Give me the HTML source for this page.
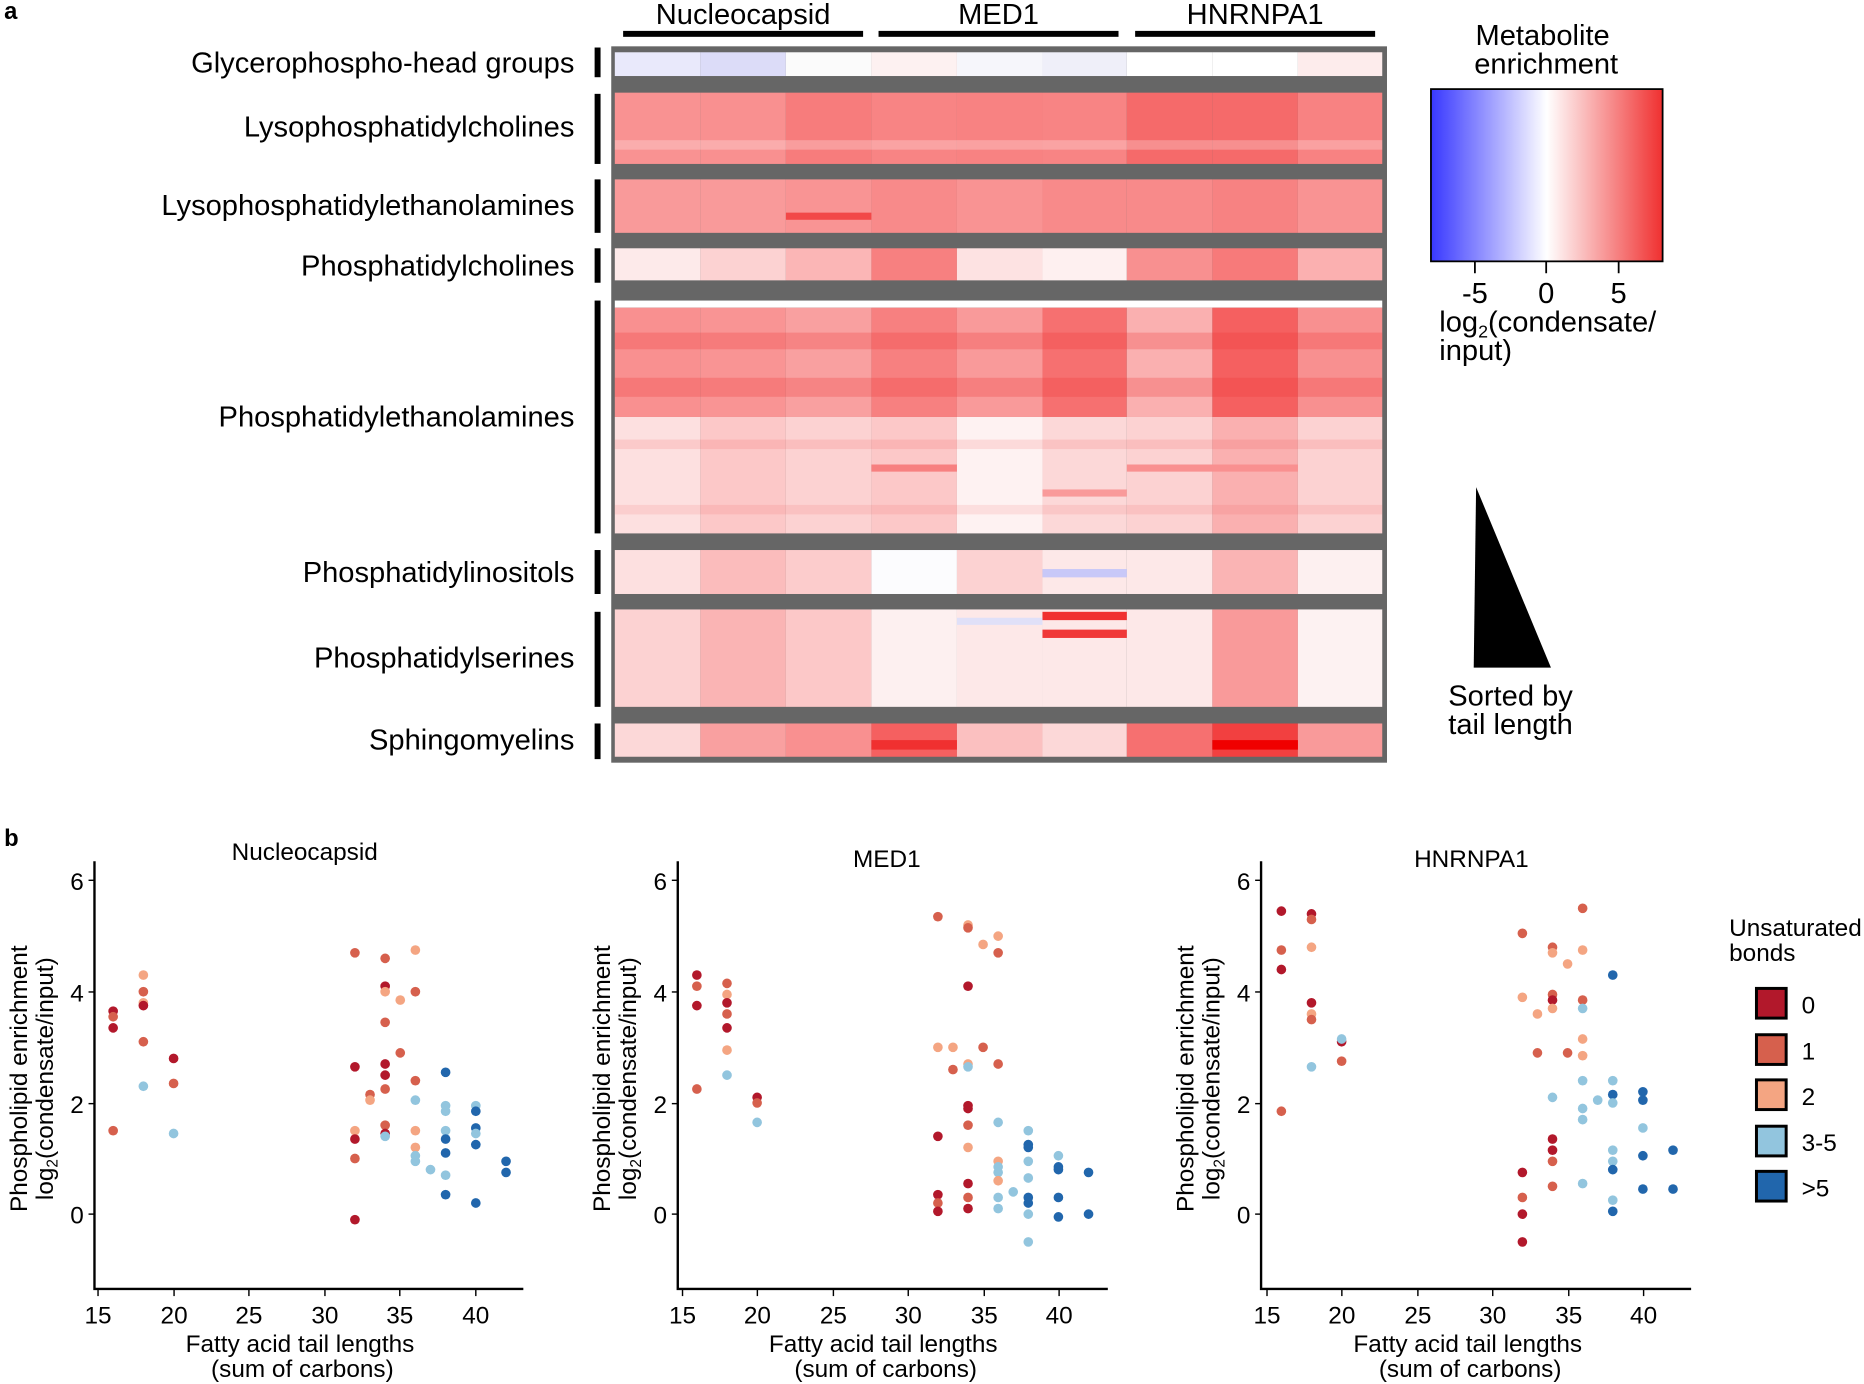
<!DOCTYPE html>
<html><head><meta charset="utf-8"><style>
html,body{margin:0;padding:0;background:#fff}
svg{display:block}
text{font-family:"Liberation Sans",Arial,sans-serif;fill:#000}
ellipse{rx:0.32px;ry:0.087px}
.a{fill:#b2182b}.b{fill:#d6604d}.c{fill:#f4a582}.d{fill:#92c5de}.e{fill:#2166ac}
</style></head><body>
<svg width="1864" height="1384" viewBox="0 0 1568 1165" xmlns="http://www.w3.org/2000/svg">
<defs><linearGradient id="cb" x1="0" x2="1" y1="0" y2="0">
<stop offset="0" stop-color="#3838ff"/><stop offset="0.5" stop-color="#ffffff"/><stop offset="1" stop-color="#f03030"/></linearGradient></defs>
<text x="3" y="16" font-size="20" font-weight="bold">a</text>
<text x="3" y="712" font-size="20" font-weight="bold">b</text>
<g font-size="24.5" text-anchor="middle">
<text x="625" y="20">Nucleocapsid</text><text x="840" y="20">MED1</text><text x="1056" y="20">HNRNPA1</text></g>
<rect x="524" y="26" width="202" height="5"/><rect x="739" y="26" width="202" height="5"/><rect x="955" y="26" width="202" height="5"/>
<rect x="514" y="39" width="653" height="603" fill="#666"/>
<g id="hm">
<rect x="517" y="44" width="72" height="20" fill="#e9e9fb"/><rect x="589" y="44" width="72" height="20" fill="#dcdcf8"/><rect x="661" y="44" width="72" height="20" fill="#fbfbfb"/><rect x="733" y="44" width="72" height="20" fill="#fdf1f1"/><rect x="805" y="44" width="72" height="20" fill="#f6f6fb"/><rect x="877" y="44" width="71" height="20" fill="#efeff9"/><rect x="948" y="44" width="72" height="20" fill="#fff"/><rect x="1020" y="44" width="72" height="20" fill="#fff"/><rect x="1092" y="44" width="71" height="20" fill="#fdecec"/>
<rect x="517" y="78" width="72" height="60" fill="#f99292"/><rect x="589" y="78" width="72" height="60" fill="#f99090"/><rect x="661" y="78" width="72" height="60" fill="#f77c7c"/><rect x="733" y="78" width="72" height="60" fill="#f88484"/><rect x="805" y="78" width="72" height="60" fill="#f88282"/><rect x="877" y="78" width="71" height="60" fill="#f88484"/><rect x="948" y="78" width="72" height="60" fill="#f56a6a"/><rect x="1020" y="78" width="72" height="60" fill="#f56a6a"/><rect x="1092" y="78" width="71" height="60" fill="#f88282"/>
<rect x="517" y="118" width="646" height="8" fill="#fff" opacity="0.25"/>
<rect x="517" y="151" width="72" height="45" fill="#f99a9a"/><rect x="589" y="151" width="72" height="45" fill="#f99a9a"/><rect x="661" y="151" width="72" height="45" fill="#f99494"/><rect x="733" y="151" width="72" height="45" fill="#f88a8a"/><rect x="805" y="151" width="72" height="45" fill="#f99393"/><rect x="877" y="151" width="71" height="45" fill="#f88a8a"/><rect x="948" y="151" width="72" height="45" fill="#f88a8a"/><rect x="1020" y="151" width="72" height="45" fill="#f78282"/><rect x="1092" y="151" width="71" height="45" fill="#f99393"/>
<rect x="661" y="179" width="72" height="6" fill="#f24848"/>
<rect x="517" y="209" width="72" height="27" fill="#fdeaea"/><rect x="589" y="209" width="72" height="27" fill="#fcd2d2"/><rect x="661" y="209" width="72" height="27" fill="#fbb6b6"/><rect x="733" y="209" width="72" height="27" fill="#f78080"/><rect x="805" y="209" width="72" height="27" fill="#fde2e2"/><rect x="877" y="209" width="71" height="27" fill="#fef0f0"/><rect x="948" y="209" width="72" height="27" fill="#f89090"/><rect x="1020" y="209" width="72" height="27" fill="#f77a7a"/><rect x="1092" y="209" width="71" height="27" fill="#fbb0b0"/>
<rect x="517" y="253" width="646" height="6" fill="#fff"/>
<rect x="517" y="259" width="72" height="92" fill="#f99090"/><rect x="589" y="259" width="72" height="92" fill="#f99494"/><rect x="661" y="259" width="72" height="92" fill="#f9a0a0"/><rect x="733" y="259" width="72" height="92" fill="#f78080"/><rect x="805" y="259" width="72" height="92" fill="#f99a9a"/><rect x="877" y="259" width="71" height="92" fill="#f67070"/><rect x="948" y="259" width="72" height="92" fill="#fab0b0"/><rect x="1020" y="259" width="72" height="92" fill="#f56060"/><rect x="1092" y="259" width="71" height="92" fill="#f89090"/>
<rect x="517" y="280" width="646" height="14" fill="#f03030" opacity="0.25"/>
<rect x="517" y="318" width="646" height="16" fill="#f03030" opacity="0.25"/>
<rect x="517" y="351" width="72" height="98" fill="#fde0e0"/><rect x="589" y="351" width="72" height="98" fill="#fcc8c8"/><rect x="661" y="351" width="72" height="98" fill="#fcd2d2"/><rect x="733" y="351" width="72" height="98" fill="#fcc8c8"/><rect x="805" y="351" width="72" height="98" fill="#fef2f2"/><rect x="877" y="351" width="71" height="98" fill="#fcd8d8"/><rect x="948" y="351" width="72" height="98" fill="#fcd2d2"/><rect x="1020" y="351" width="72" height="98" fill="#fab0b0"/><rect x="1092" y="351" width="71" height="98" fill="#fcd2d2"/>
<rect x="517" y="370" width="646" height="8" fill="#f03030" opacity="0.12"/><rect x="517" y="425" width="646" height="8" fill="#f03030" opacity="0.1"/>
<rect x="733" y="391" width="72" height="6" fill="#f78080"/><rect x="948" y="391" width="144" height="6" fill="#f99090"/><rect x="877" y="412" width="71" height="6" fill="#f99a9a"/>
<rect x="517" y="463" width="72" height="37" fill="#fde0e0"/><rect x="589" y="463" width="72" height="37" fill="#fbbcbc"/><rect x="661" y="463" width="72" height="37" fill="#fccccc"/><rect x="733" y="463" width="72" height="37" fill="#fcfcfe"/><rect x="805" y="463" width="72" height="37" fill="#fcd2d2"/><rect x="877" y="463" width="71" height="37" fill="#fde8e8"/><rect x="948" y="463" width="72" height="37" fill="#fde8e8"/><rect x="1020" y="463" width="72" height="37" fill="#fab4b4"/><rect x="1092" y="463" width="71" height="37" fill="#fdf0f0"/>
<rect x="877" y="479" width="71" height="7" fill="#c8c8f8"/>
<rect x="517" y="513" width="72" height="82" fill="#fcd2d2"/><rect x="589" y="513" width="72" height="82" fill="#fab4b4"/><rect x="661" y="513" width="72" height="82" fill="#fcc8c8"/><rect x="733" y="513" width="72" height="82" fill="#fdf0f0"/><rect x="805" y="513" width="72" height="82" fill="#fde8e8"/><rect x="877" y="513" width="71" height="82" fill="#fde8e8"/><rect x="948" y="513" width="72" height="82" fill="#fde8e8"/><rect x="1020" y="513" width="72" height="82" fill="#f99a9a"/><rect x="1092" y="513" width="71" height="82" fill="#fdf2f2"/>
<rect x="877" y="515" width="71" height="7" fill="#f03030"/><rect x="877" y="530" width="71" height="7" fill="#f03838"/><rect x="805" y="520" width="72" height="6" fill="#e0e0f8"/>
<rect x="517" y="609" width="72" height="28" fill="#fcd8d8"/><rect x="589" y="609" width="72" height="28" fill="#f9a0a0"/><rect x="661" y="609" width="72" height="28" fill="#f99090"/><rect x="733" y="609" width="72" height="28" fill="#f56060"/><rect x="805" y="609" width="72" height="28" fill="#fbc0c0"/><rect x="877" y="609" width="71" height="28" fill="#fcd8d8"/><rect x="948" y="609" width="72" height="28" fill="#f67070"/><rect x="1020" y="609" width="72" height="28" fill="#f24040"/><rect x="1092" y="609" width="71" height="28" fill="#f99a9a"/>
<rect x="1020" y="623" width="72" height="8" fill="#f00000"/><rect x="733" y="623" width="72" height="8" fill="#f03030"/>
</g>
<g font-size="24.5" text-anchor="end">
<text x="483" y="61">Glycerophospho-head groups</text>
<text x="483" y="115">Lysophosphatidylcholines</text>
<text x="483" y="181">Lysophosphatidylethanolamines</text>
<text x="483" y="232">Phosphatidylcholines</text>
<text x="483" y="359">Phosphatidylethanolamines</text>
<text x="483" y="490">Phosphatidylinositols</text>
<text x="483" y="562">Phosphatidylserines</text>
<text x="483" y="631">Sphingomyelins</text>
</g>
<g>
<rect x="500" y="40" width="5" height="25"/><rect x="500" y="79" width="5" height="59"/><rect x="500" y="151" width="5" height="45"/><rect x="500" y="209" width="5" height="29"/><rect x="500" y="253" width="5" height="196"/><rect x="500" y="463" width="5" height="37"/><rect x="500" y="515" width="5" height="80"/><rect x="500" y="609" width="5" height="30"/>
</g>
<g font-size="24.5" text-anchor="middle">
<text x="1298" y="38">Metabolite</text><text x="1301" y="62">enrichment</text></g>
<rect x="1204" y="75" width="195" height="145" fill="url(#cb)" stroke="#000" stroke-width="1.5"/>
<g stroke="#000" stroke-width="1.5"><line x1="1241" y1="220" x2="1241" y2="230"/><line x1="1301" y1="220" x2="1301" y2="230"/><line x1="1362" y1="220" x2="1362" y2="230"/></g>
<g font-size="24.5" text-anchor="middle"><text x="1241" y="255">-5</text><text x="1301" y="255">0</text><text x="1362" y="255">5</text></g>
<text x="1211" y="279" font-size="24.5">log<tspan font-size="15" dy="5">2</tspan><tspan dy="-5">(condensate/</tspan></text>
<text x="1211" y="303" font-size="24.5">input)</text>
<polygon points="1242,410 1305,562 1240,562" fill="#000"/>
<g font-size="24.5" text-anchor="middle"><text x="1271" y="594">Sorted by</text><text x="1271" y="618">tail length</text></g>

<g font-size="20.5" text-anchor="middle">
<text x="256" y="724">Nucleocapsid</text><text x="746" y="730">MED1</text><text x="1238" y="730">HNRNPA1</text>
</g>
<g stroke="#000" fill="none">
<path d="M79,725 V1085 H440" stroke-width="2"/>
<path d="M570,725 V1085 H932" stroke-width="2"/>
<path d="M1061,725 V1085 H1423" stroke-width="2"/>
</g>
<g stroke="#000" stroke-width="1.2">
<line x1="74" y1="741" x2="79" y2="741"/><line x1="74" y1="929" x2="79" y2="929"/><line x1="74" y1="835" x2="79" y2="835"/><line x1="74" y1="1022" x2="79" y2="1022"/>
<line x1="565" y1="741" x2="570" y2="741"/><line x1="565" y1="835" x2="570" y2="835"/><line x1="565" y1="929" x2="570" y2="929"/><line x1="565" y1="1022" x2="570" y2="1022"/>
<line x1="1056" y1="741" x2="1061" y2="741"/><line x1="1056" y1="835" x2="1061" y2="835"/><line x1="1056" y1="929" x2="1061" y2="929"/><line x1="1056" y1="1022" x2="1061" y2="1022"/>
<line x1="82" y1="1085" x2="82" y2="1091"/><line x1="146" y1="1085" x2="146" y2="1091"/><line x1="209" y1="1085" x2="209" y2="1091"/><line x1="273" y1="1085" x2="273" y2="1091"/><line x1="336" y1="1085" x2="336" y2="1091"/><line x1="400" y1="1085" x2="400" y2="1091"/>
<line x1="574" y1="1085" x2="574" y2="1091"/><line x1="637" y1="1085" x2="637" y2="1091"/><line x1="701" y1="1085" x2="701" y2="1091"/><line x1="764" y1="1085" x2="764" y2="1091"/><line x1="828" y1="1085" x2="828" y2="1091"/><line x1="891" y1="1085" x2="891" y2="1091"/>
<line x1="1066" y1="1085" x2="1066" y2="1091"/><line x1="1129" y1="1085" x2="1129" y2="1091"/><line x1="1193" y1="1085" x2="1193" y2="1091"/><line x1="1256" y1="1085" x2="1256" y2="1091"/><line x1="1320" y1="1085" x2="1320" y2="1091"/><line x1="1383" y1="1085" x2="1383" y2="1091"/>
</g>
<g font-size="20.5" text-anchor="end">
<text x="70" y="749">6</text><text x="70" y="843">4</text><text x="70" y="937">2</text><text x="70" y="1030">0</text>
<text x="561" y="749">6</text><text x="561" y="843">4</text><text x="561" y="937">2</text><text x="561" y="1030">0</text>
<text x="1052" y="749">6</text><text x="1052" y="843">4</text><text x="1052" y="937">2</text><text x="1052" y="1030">0</text>
</g>
<g font-size="20.5" text-anchor="middle">
<text x="82" y="1114">15</text><text x="146" y="1114">20</text><text x="209" y="1114">25</text><text x="273" y="1114">30</text><text x="336" y="1114">35</text><text x="400" y="1114">40</text>
<text x="574" y="1114">15</text><text x="637" y="1114">20</text><text x="701" y="1114">25</text><text x="764" y="1114">30</text><text x="828" y="1114">35</text><text x="891" y="1114">40</text>
<text x="1066" y="1114">15</text><text x="1129" y="1114">20</text><text x="1193" y="1114">25</text><text x="1256" y="1114">30</text><text x="1320" y="1114">35</text><text x="1383" y="1114">40</text>
<text x="252" y="1138">Fatty acid tail lengths</text><text x="254" y="1159">(sum of carbons)</text>
<text x="743" y="1138">Fatty acid tail lengths</text><text x="745" y="1159">(sum of carbons)</text>
<text x="1235" y="1138">Fatty acid tail lengths</text><text x="1237" y="1159">(sum of carbons)</text>
</g>
<g font-size="20.5" text-anchor="middle">
<text transform="translate(22,908) rotate(-90)">Phospholipid enrichment</text>
<text transform="translate(44,908) rotate(-90)">log<tspan font-size="13" dy="4">2</tspan><tspan dy="-4">(condensate/input)</tspan></text>
<text transform="translate(513,908) rotate(-90)">Phospholipid enrichment</text>
<text transform="translate(535,908) rotate(-90)">log<tspan font-size="13" dy="4">2</tspan><tspan dy="-4">(condensate/input)</tspan></text>
<text transform="translate(1004,908) rotate(-90)">Phospholipid enrichment</text>
<text transform="translate(1026,908) rotate(-90)">log<tspan font-size="13" dy="4">2</tspan><tspan dy="-4">(condensate/input)</tspan></text>
</g>
<g transform="translate(-108.8,1022) scale(12.72,-46.8)">
<ellipse class="a" cx="16" cy="3.65"/><ellipse class="b" cx="16" cy="3.55"/><ellipse class="a" cx="16" cy="3.35"/><ellipse class="b" cx="16" cy="1.5"/>
<ellipse class="c" cx="18" cy="4.3"/><ellipse class="b" cx="18" cy="4.0"/><ellipse class="c" cx="18" cy="3.8"/><ellipse class="a" cx="18" cy="3.75"/><ellipse class="b" cx="18" cy="3.1"/><ellipse class="d" cx="18" cy="2.3"/>
<ellipse class="a" cx="20" cy="2.8"/><ellipse class="b" cx="20" cy="2.35"/><ellipse class="d" cx="20" cy="1.45"/>
<ellipse class="b" cx="32" cy="4.7"/><ellipse class="a" cx="32" cy="2.65"/><ellipse class="c" cx="32" cy="1.5"/><ellipse class="a" cx="32" cy="1.35"/><ellipse class="b" cx="32" cy="1.0"/><ellipse class="a" cx="32" cy="-0.1"/>
<ellipse class="b" cx="33" cy="2.15"/><ellipse class="c" cx="33" cy="2.05"/>
<ellipse class="b" cx="34" cy="4.6"/><ellipse class="a" cx="34" cy="4.1"/><ellipse class="c" cx="34" cy="4.0"/><ellipse class="b" cx="34" cy="3.45"/><ellipse class="a" cx="34" cy="2.7"/><ellipse class="a" cx="34" cy="2.5"/><ellipse class="b" cx="34" cy="2.25"/><ellipse class="b" cx="34" cy="1.6"/><ellipse class="a" cx="34" cy="1.45"/><ellipse class="d" cx="34" cy="1.4"/>
<ellipse class="c" cx="35" cy="3.85"/><ellipse class="b" cx="35" cy="2.9"/>
<ellipse class="c" cx="36" cy="4.75"/><ellipse class="b" cx="36" cy="4.0"/><ellipse class="b" cx="36" cy="2.4"/><ellipse class="d" cx="36" cy="2.05"/><ellipse class="c" cx="36" cy="1.5"/><ellipse class="c" cx="36" cy="1.2"/><ellipse class="d" cx="36" cy="1.05"/><ellipse class="d" cx="36" cy="0.95"/>
<ellipse class="d" cx="37" cy="0.8"/>
<ellipse class="e" cx="38" cy="2.55"/><ellipse class="d" cx="38" cy="1.95"/><ellipse class="d" cx="38" cy="1.85"/><ellipse class="d" cx="38" cy="1.5"/><ellipse class="e" cx="38" cy="1.35"/><ellipse class="e" cx="38" cy="1.1"/><ellipse class="d" cx="38" cy="0.7"/><ellipse class="e" cx="38" cy="0.35"/>
<ellipse class="d" cx="40" cy="1.95"/><ellipse class="e" cx="40" cy="1.85"/><ellipse class="e" cx="40" cy="1.55"/><ellipse class="d" cx="40" cy="1.45"/><ellipse class="e" cx="40" cy="1.25"/><ellipse class="e" cx="40" cy="0.2"/>
<ellipse class="e" cx="42" cy="0.95"/><ellipse class="e" cx="42" cy="0.75"/>
</g>
<g transform="translate(383.2,1022) scale(12.68,-46.8)">
<ellipse class="a" cx="16" cy="4.3"/><ellipse class="b" cx="16" cy="4.1"/><ellipse class="a" cx="16" cy="3.75"/><ellipse class="b" cx="16" cy="2.25"/>
<ellipse class="b" cx="18" cy="4.15"/><ellipse class="c" cx="18" cy="3.95"/><ellipse class="a" cx="18" cy="3.8"/><ellipse class="b" cx="18" cy="3.6"/><ellipse class="a" cx="18" cy="3.35"/><ellipse class="c" cx="18" cy="2.95"/><ellipse class="d" cx="18" cy="2.5"/>
<ellipse class="a" cx="20" cy="2.1"/><ellipse class="b" cx="20" cy="2.0"/><ellipse class="d" cx="20" cy="1.65"/>
<ellipse class="b" cx="32" cy="5.35"/><ellipse class="c" cx="32" cy="3.0"/><ellipse class="a" cx="32" cy="1.4"/><ellipse class="a" cx="32" cy="0.35"/><ellipse class="b" cx="32" cy="0.2"/><ellipse class="a" cx="32" cy="0.05"/>
<ellipse class="c" cx="33" cy="3.0"/><ellipse class="b" cx="33" cy="2.6"/>
<ellipse class="c" cx="34" cy="5.2"/><ellipse class="b" cx="34" cy="5.15"/><ellipse class="a" cx="34" cy="4.1"/><ellipse class="c" cx="34" cy="2.7"/><ellipse class="d" cx="34" cy="2.65"/><ellipse class="a" cx="34" cy="1.95"/><ellipse class="a" cx="34" cy="1.9"/><ellipse class="b" cx="34" cy="1.6"/><ellipse class="c" cx="34" cy="1.2"/><ellipse class="a" cx="34" cy="0.55"/><ellipse class="b" cx="34" cy="0.3"/><ellipse class="a" cx="34" cy="0.1"/>
<ellipse class="c" cx="35" cy="4.85"/><ellipse class="b" cx="35" cy="3.0"/>
<ellipse class="c" cx="36" cy="5.0"/><ellipse class="b" cx="36" cy="4.7"/><ellipse class="b" cx="36" cy="2.7"/><ellipse class="d" cx="36" cy="1.65"/><ellipse class="c" cx="36" cy="0.95"/><ellipse class="d" cx="36" cy="0.85"/><ellipse class="d" cx="36" cy="0.75"/><ellipse class="c" cx="36" cy="0.6"/><ellipse class="d" cx="36" cy="0.3"/><ellipse class="d" cx="36" cy="0.1"/>
<ellipse class="d" cx="37" cy="0.4"/>
<ellipse class="d" cx="38" cy="1.5"/><ellipse class="e" cx="38" cy="1.25"/><ellipse class="e" cx="38" cy="1.2"/><ellipse class="d" cx="38" cy="0.95"/><ellipse class="d" cx="38" cy="0.65"/><ellipse class="e" cx="38" cy="0.3"/><ellipse class="e" cx="38" cy="0.2"/><ellipse class="d" cx="38" cy="0.0"/><ellipse class="d" cx="38" cy="-0.5"/>
<ellipse class="d" cx="40" cy="1.05"/><ellipse class="e" cx="40" cy="0.85"/><ellipse class="e" cx="40" cy="0.8"/><ellipse class="e" cx="40" cy="0.3"/><ellipse class="e" cx="40" cy="-0.05"/>
<ellipse class="e" cx="42" cy="0.75"/><ellipse class="e" cx="42" cy="0.0"/>
</g>
<g transform="translate(875.2,1022) scale(12.68,-46.8)">
<ellipse class="a" cx="16" cy="5.45"/><ellipse class="b" cx="16" cy="4.75"/><ellipse class="a" cx="16" cy="4.4"/><ellipse class="b" cx="16" cy="1.85"/>
<ellipse class="a" cx="18" cy="5.4"/><ellipse class="b" cx="18" cy="5.3"/><ellipse class="c" cx="18" cy="4.8"/><ellipse class="a" cx="18" cy="3.8"/><ellipse class="c" cx="18" cy="3.6"/><ellipse class="b" cx="18" cy="3.5"/><ellipse class="d" cx="18" cy="2.65"/>
<ellipse class="a" cx="20" cy="3.1"/><ellipse class="d" cx="20" cy="3.15"/><ellipse class="b" cx="20" cy="2.75"/>
<ellipse class="b" cx="32" cy="5.05"/><ellipse class="c" cx="32" cy="3.9"/><ellipse class="a" cx="32" cy="0.75"/><ellipse class="b" cx="32" cy="0.3"/><ellipse class="a" cx="32" cy="0.0"/><ellipse class="a" cx="32" cy="-0.5"/>
<ellipse class="c" cx="33" cy="3.6"/><ellipse class="b" cx="33" cy="2.9"/>
<ellipse class="b" cx="34" cy="4.8"/><ellipse class="c" cx="34" cy="4.7"/><ellipse class="b" cx="34" cy="3.95"/><ellipse class="a" cx="34" cy="3.85"/><ellipse class="c" cx="34" cy="3.7"/><ellipse class="d" cx="34" cy="2.1"/><ellipse class="a" cx="34" cy="1.35"/><ellipse class="a" cx="34" cy="1.15"/><ellipse class="b" cx="34" cy="0.95"/><ellipse class="b" cx="34" cy="0.5"/>
<ellipse class="c" cx="35" cy="4.5"/><ellipse class="b" cx="35" cy="2.9"/>
<ellipse class="b" cx="36" cy="5.5"/><ellipse class="c" cx="36" cy="4.75"/><ellipse class="b" cx="36" cy="3.85"/><ellipse class="d" cx="36" cy="3.7"/><ellipse class="c" cx="36" cy="3.15"/><ellipse class="c" cx="36" cy="2.85"/><ellipse class="d" cx="36" cy="2.4"/><ellipse class="d" cx="36" cy="1.9"/><ellipse class="d" cx="36" cy="1.7"/><ellipse class="d" cx="36" cy="0.55"/>
<ellipse class="d" cx="37" cy="2.05"/>
<ellipse class="e" cx="38" cy="4.3"/><ellipse class="d" cx="38" cy="2.4"/><ellipse class="e" cx="38" cy="2.15"/><ellipse class="d" cx="38" cy="2.0"/><ellipse class="d" cx="38" cy="1.15"/><ellipse class="d" cx="38" cy="0.95"/><ellipse class="e" cx="38" cy="0.8"/><ellipse class="d" cx="38" cy="0.25"/><ellipse class="e" cx="38" cy="0.05"/>
<ellipse class="e" cx="40" cy="2.2"/><ellipse class="e" cx="40" cy="2.05"/><ellipse class="d" cx="40" cy="1.55"/><ellipse class="e" cx="40" cy="1.05"/><ellipse class="e" cx="40" cy="0.45"/>
<ellipse class="e" cx="42" cy="1.15"/><ellipse class="e" cx="42" cy="0.45"/>
</g>
<g font-size="20.5"><text x="1455" y="788">Unsaturated</text><text x="1455" y="809">bonds</text></g>
<g stroke="#000" stroke-width="2.5">
<rect x="1478" y="832" width="25" height="25" fill="#b2182b"/>
<rect x="1478" y="871" width="25" height="25" fill="#d6604d"/>
<rect x="1478" y="909" width="25" height="25" fill="#f4a582"/>
<rect x="1478" y="948" width="25" height="25" fill="#92c5de"/>
<rect x="1478" y="986" width="25" height="25" fill="#2166ac"/>
</g>
<g font-size="20.5"><text x="1516" y="853">0</text><text x="1516" y="892">1</text><text x="1516" y="930">2</text><text x="1516" y="969">3-5</text><text x="1516" y="1007">&gt;5</text></g>
</svg>
</body></html>
